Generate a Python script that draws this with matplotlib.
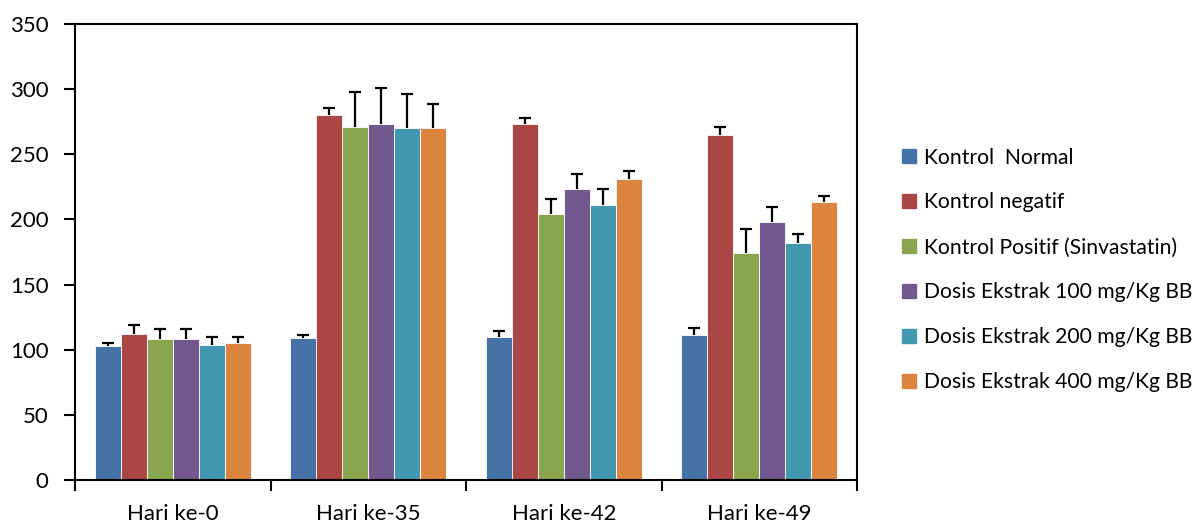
import matplotlib
matplotlib.use("Agg")
import matplotlib.pyplot as plt
from matplotlib.lines import Line2D
import numpy as np

# data
kategori = ["Hari ke-0", "Hari ke-35", "Hari ke-42", "Hari ke-49"]
kelompok = ["Kontrol  Normal", "Kontrol negatif", "Kontrol Positif (Sinvastatin)",
            "Dosis Ekstrak 100 mg/Kg BB", "Dosis Ekstrak 200 mg/Kg BB",
            "Dosis Ekstrak 400 mg/Kg BB"]

kontrol_normal = [103, 109, 110, 111]
kontrol_negatif = [112, 280, 273, 265]
kontrol_positif = [108, 271, 204, 174]
dosis_100 = [108, 273, 223, 198]
dosis_200 = [104, 270, 211, 182]
dosis_400 = [105, 270, 231, 213]

err_normal = [2.5, 2.3, 4.5, 6]
err_negatif = [7, 5.6, 5, 5.6]
err_positif = [7.7, 27, 12, 19]
err_100 = [7.7, 27.5, 11.7, 11.8]
err_200 = [6, 26.4, 12, 6.7]
err_400 = [4.6, 18.4, 5.8, 4.6]

warna = ["#4572A7", "#AA4643", "#89A54E", "#71588F", "#4198AF", "#DB843D"]

plt.rcParams["font.family"] = ["Lato", "DejaVu Sans"]

fig = plt.figure(figsize=(12.03, 5.25), dpi=100)
ax = fig.add_axes([75 / 1203, 1 - 480 / 525, (857 - 75) / 1203, (480 - 24) / 525])

nilai = [kontrol_normal, kontrol_negatif, kontrol_positif, dosis_100, dosis_200, dosis_400]
galat = [err_normal, err_negatif, err_positif, err_100, err_200, err_400]

x = np.arange(len(kategori))
lebar = 0.133
for j, (v, e) in enumerate(zip(nilai, galat)):
    pos = x + (j - 2.5) * lebar
    ax.bar(pos, v, width=lebar, color=warna[j], edgecolor="white", linewidth=0.6, zorder=2)
    eb = ax.errorbar(pos, v, yerr=[np.zeros(len(e)), e], fmt="none", ecolor="black",
                     elinewidth=1.6, capsize=4.5, capthick=1.6, zorder=3)
    # only the upper cap, like the reference
    eb[1][0].set_visible(False)

ax.set_xlim(-0.5, 3.5)
ax.set_ylim(0, 350)
ax.set_yticks(range(0, 351, 50))
ax.set_xticks(x)
ax.set_xticklabels(kategori)
ax.set_xticks(np.arange(-0.5, 3.6, 1), minor=True)
ax.tick_params(axis="x", which="major", length=0, pad=17, labelsize=16)
ax.tick_params(axis="x", which="minor", length=8, width=1.5, direction="out")
ax.tick_params(axis="y", length=8, width=1.5, direction="out", labelsize=16, pad=11)
for s in ax.spines.values():
    s.set_linewidth(1.5)
    s.set_color("black")

handles = [Line2D([], [], marker="s", linestyle="none", markersize=10,
                  markerfacecolor=c, markeredgecolor=c) for c in warna]
fig.legend(handles, kelompok, loc="upper left", bbox_to_anchor=(890 / 1203, 1 - 137 / 525),
           frameon=False, fontsize=15.2, labelspacing=1.18, handlelength=0.8,
           handletextpad=0.3, borderpad=0)

fig.savefig("out.png", dpi=100)
